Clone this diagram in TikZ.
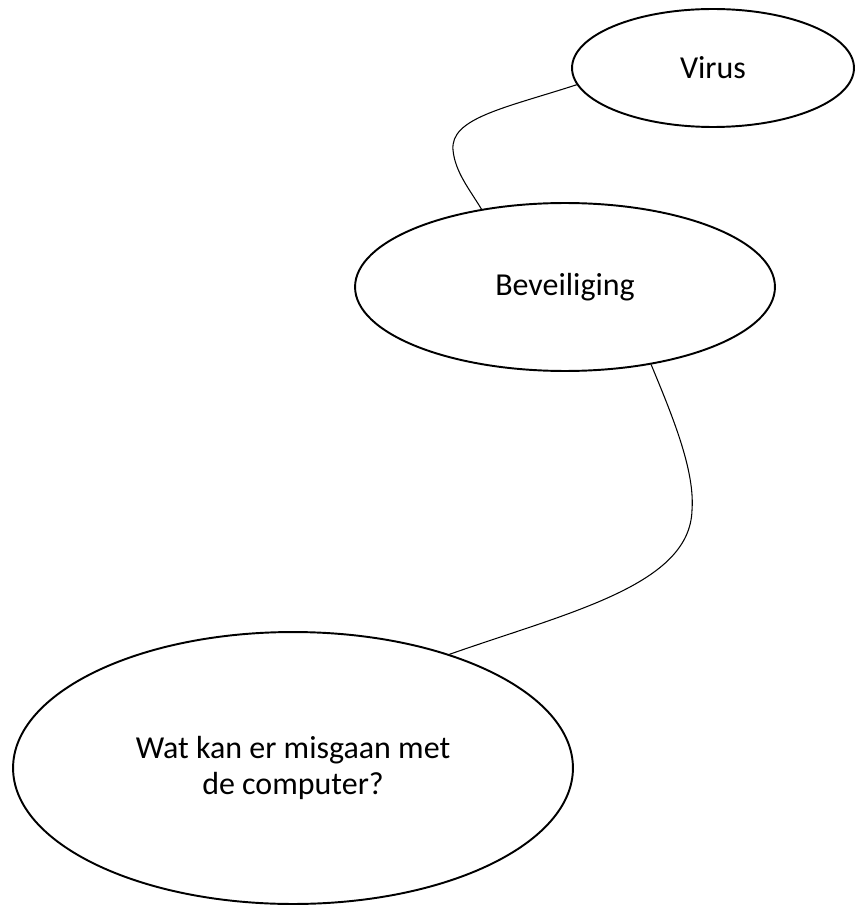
\documentclass[tikz,border=0pt]{standalone}
\usepackage{fontspec}
\setmainfont{Carlito}
\usetikzlibrary{shapes.geometric}

\tikzset{
  bubble/.style={ellipse, draw, line width=1.1pt, inner sep=0pt,
                 align=center, font=\fontsize{18.2pt}{20.8pt}\selectfont},
  link/.style={line width=0.6pt}
}

\begin{document}
\begin{tikzpicture}[x=0.02cm, y=-0.02cm]
  \useasboundingbox (0,0) rectangle (857,905);
  \begin{scope}
    \node[bubble, minimum width=5.64cm, minimum height=2.36cm] (virus) at (713,68) {Virus};
    \node[bubble, minimum width=8.4cm, minimum height=3.36cm] (bev) at (565,287) {Beveiliging};
    \node[bubble, minimum width=11.2cm, minimum height=5.44cm] (vraag) at (293,768)
          {Wat kan er misgaan met\\de computer?};
    \draw[link] (virus.187) .. controls (505,108) and (450,118) .. (453,150)
          .. controls (455,172) and (470,190) .. (bev.137);
    \draw[link] (bev.-42) .. controls (672,415) and (695,470) .. (692,510)
          .. controls (690,585) and (570,612) .. (vraag.36);
  \end{scope}
\end{tikzpicture}
\end{document}
